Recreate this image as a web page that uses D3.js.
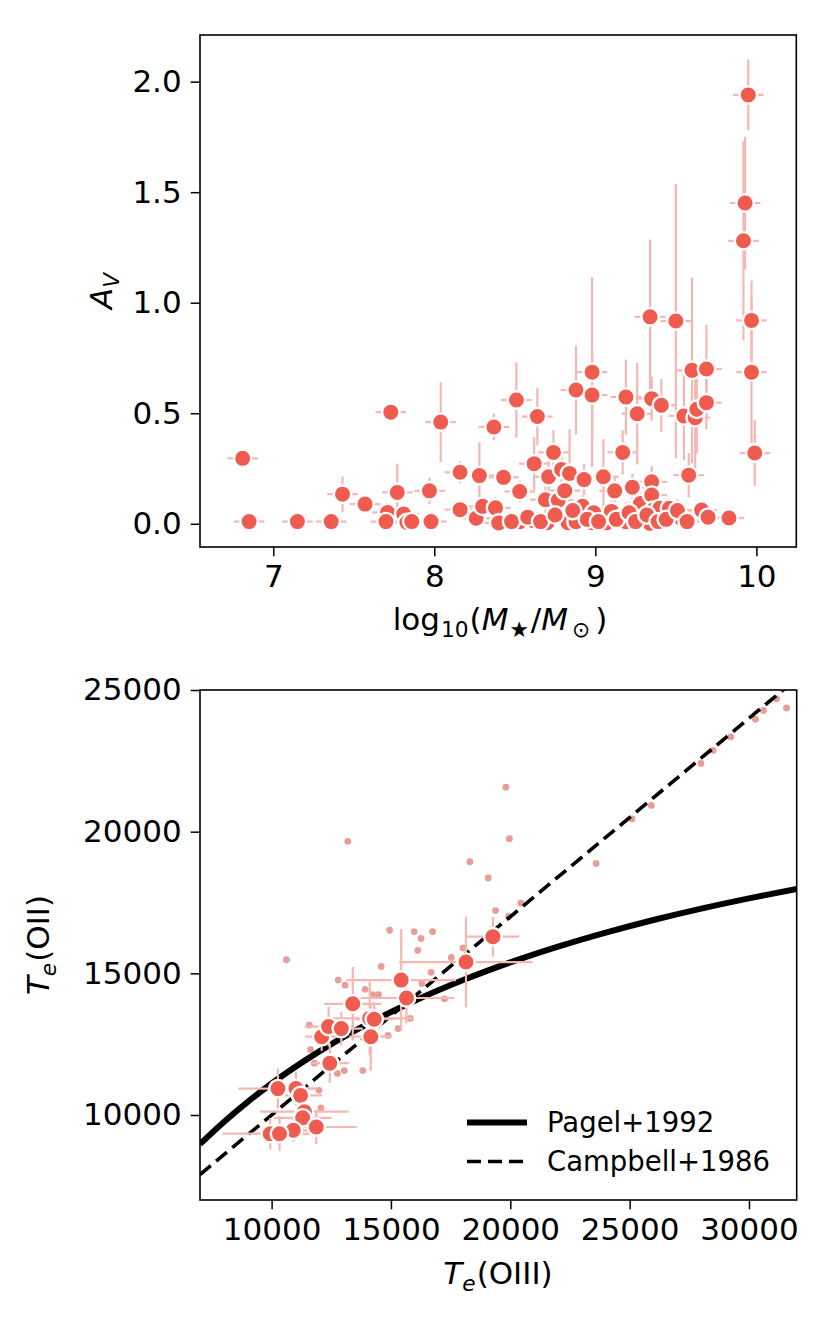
<!DOCTYPE html>
<html>
<head>
<meta charset="utf-8">
<script src="https://cdn.jsdelivr.net/npm/d3@7"></script>
<style>
  body { margin: 0; background: #fff; }
  svg { display: block; }
  text { font-family: "DejaVu Sans", sans-serif; fill: #000; }
</style>
</head>
<body>
<svg id="fig" width="830" height="1329"></svg>
<script>
// ---- top panel: stellar mass vs A_V ----
const logMass = [6.81, 6.85, 7.15, 7.36, 7.43, 7.57, 7.73, 7.77, 7.71, 7.70, 7.81, 7.83, 7.86, 7.97, 7.98,
  8.04, 8.16, 8.16, 8.26, 8.28, 8.30, 8.37, 8.38, 8.40, 8.43, 8.51, 8.53, 8.53, 8.61, 8.62, 8.64, 8.69,
  8.70, 8.71, 8.74, 8.77, 8.79, 8.81, 8.84, 8.83, 8.88, 8.88, 8.92, 8.93, 8.98, 8.98, 8.98, 8.99, 9.05,
  9.07, 9.10, 9.12, 9.16, 9.17, 9.19, 9.19, 9.23, 9.26, 9.27, 9.28, 9.30, 9.34, 9.34, 9.35, 9.35, 9.35,
  9.36, 9.40, 9.41, 9.46, 9.50, 9.53, 9.55, 9.58, 9.60, 9.62, 9.63, 9.66, 9.69, 9.69, 9.70, 9.83, 9.92,
  9.93, 9.95, 9.97, 9.97, 9.99,
  8.48, 8.58, 8.66, 8.75, 8.86, 8.95, 9.02, 9.13, 9.21, 9.25, 9.32, 9.39, 9.44, 9.51, 9.57];
const avValue = [0.296, 0.01, 0.01, 0.01, 0.134, 0.089, 0.505, 0.142, 0.051, 0.01, 0.044, 0.006, 0.01, 0.149, 0.01,
  0.46, 0.233, 0.064, 0.025, 0.218, 0.079, 0.438, 0.072, 0.004, 0.21, 0.56, 0.146, 0.009, 0.015, 0.272, 0.485, 0.109,
  0.005, 0.213, 0.323, 0.107, 0.246, 0.15, 0.228, 0.005, 0.605, 0.009, 0.079, 0.2, 0.686, 0.582, 0.005, 0.05, 0.213,
  0.005, 0.056, 0.149, 0.024, 0.323, 0.573, 0.009, 0.165, 0.498, 0.035, 0.092, 0.01, 0.936, 0.002, 0.566, 0.19, 0.13,
  0.062, 0.07, 0.536, 0.07, 0.917, 0.026, 0.488, 0.22, 0.694, 0.48, 0.518, 0.062, 0.70, 0.548, 0.03, 0.026, 1.28,
  1.451, 1.94, 0.92, 0.686, 0.32,
  0.01, 0.03, 0.01, 0.04, 0.06, 0.02, 0.01, 0.02, 0.05, 0.01, 0.04, 0.01, 0.02, 0.06, 0.01];
const avError = [0.02, 0.02, 0.02, 0.02, 0.08, 0.04, 0.02, 0.13, 0.03, 0.02, 0.03, 0.02, 0.02, 0.06, 0.02,
  0.18, 0.05, 0.04, 0.03, 0.15, 0.04, 0.06, 0.05, 0.02, 0.04, 0.17, 0.05, 0.02, 0.03, 0.12, 0.13, 0.06,
  0.02, 0.07, 0.1, 0.05, 0.1, 0.05, 0.2, 0.02, 0.2, 0.03, 0.05, 0.07, 0.43, 0.2, 0.03, 0.04, 0.17,
  0.03, 0.05, 0.06, 0.03, 0.1, 0.17, 0.03, 0.06, 0.23, 0.04, 0.05, 0.03, 0.35, 0.03, 0.1, 0.07, 0.05,
  0.04, 0.04, 0.12, 0.04, 0.62, 0.04, 0.2, 0.1, 0.42, 0.25, 0.2, 0.04, 0.2, 0.12, 0.04, 0.03, 0.45,
  0.3, 0.16, 0.18, 0.32, 0.15,
  0.02, 0.03, 0.02, 0.03, 0.04, 0.03, 0.02, 0.03, 0.04, 0.02, 0.03, 0.02, 0.03, 0.05, 0.02];
const logMassError = 0.095;
const massTicks = [7, 8, 9, 10];
const avTicks = [0, 0.5, 1.0, 1.5, 2.0];

// ---- bottom panel: Te(OIII) vs Te(OII) ----
const teO3 = [10264, 11022, 11215, 11374, 11300, 10909, 11872, 9941, 10331, 12438, 12098, 12387, 12920,
  13401, 14109, 14300, 14155, 15429, 15651, 18144, 19271];
const teO2 = [10932, 10932, 10692, 10117, 9900, 9460, 9577, 9340, 9340, 11829, 12764, 13121, 13050,
  13925, 13410, 13380, 12764, 14762, 14130, 15398, 16294];
const teO3Error = [1650, 800, 900, 1850, 1200, 1000, 1700, 2000, 1000, 800, 700, 1000, 900,
  1200, 1800, 800, 900, 2300, 2000, 2800, 1100];
const teO2Error = [700, 600, 500, 500, 400, 400, 600, 550, 600, 700, 500, 700, 600,
  1300, 1300, 600, 1200, 1800, 900, 1600, 700];

const litO3 = [19816, 19962, 13193, 18306, 19078, 23598, 25094, 25911, 27988, 28499, 29241, 30271, 31156,
  31575, 30607, 10620, 14943, 15973, 16744, 16262, 16120, 19384, 20444, 19929, 18018, 14591, 12789, 13078,
  13916, 14235, 14478, 16682, 16297, 17243, 11583, 14880, 15299, 15814, 11793, 13045, 13820, 12756, 11985,
  12065, 11633, 17532];
const litO2 = [21571, 19753, 19658, 18938, 18365, 18877, 20448, 20925, 22408, 22866, 23343, 23968, 24695,
  24367, 24278, 15479, 16520, 16473, 16473, 16233, 15813, 17215, 17481, 17011, 15898, 15241, 14762, 14582,
  14437, 14246, 14246, 15036, 14641, 14101, 13170, 12810, 13050, 13410, 11829, 11568, 11568, 11469, 10872,
  10247, 12310, 15558];

const pagelO3 = [7000, 8000, 9000, 10000, 12000, 14000, 16000, 18000, 20000, 22000, 24000, 26000, 28000, 30000, 32000];
const pagelO2 = [8974, 9756, 10465, 11111, 12245, 13208, 14035, 14754, 15385, 15942, 16438, 16883, 17284, 17647, 17978];
const campbellO3 = [7000, 32000];
const campbellO2 = [7900, 25400];

const teTicksX = [10000, 15000, 20000, 25000, 30000];
const teTicksY = [10000, 15000, 20000, 25000];

const legendNames = ["Pagel+1992", "Campbell+1986"];

// ---- styling ----
const markColor = "#f05b4f";
const barColor = "#f3b8b2";
const litColor = "#e89d96";
const fontSize = 31;

const svg = d3.select("#fig");

// mathtext-like label: parts with optional italic / subscript
function richText(sel, parts, fs) {
  let shifted = false;
  parts.forEach(function (p) {
    const ts = sel.append("tspan").text(p.t);
    if (p.italic) ts.style("font-style", "italic");
    if (p.dx) ts.attr("dx", p.dx);
    if (p.sub) {
      ts.attr("font-size", fs * 0.7).attr("dy", shifted ? 0 : fs * 0.22);
      shifted = true;
    } else {
      ts.attr("font-size", fs);
      if (shifted) { ts.attr("dy", -fs * 0.22); shifted = false; }
    }
  });
}

function frame(g, w, h) {
  g.append("rect")
    .attr("width", w).attr("height", h)
    .attr("fill", "none").attr("stroke", "#000").attr("stroke-width", 1.6);
}

function styleAxis(g) {
  g.select(".domain").remove();
  g.selectAll(".tick line").attr("stroke", "#000").attr("stroke-width", 1.5);
  g.selectAll(".tick text").attr("font-size", fontSize).attr("font-family", "DejaVu Sans").attr("fill", "#000");
}

// ================= top panel =================
const topBox = { left: 200, top: 35, w: 596.3, h: 512 };
const x1 = d3.scaleLinear().domain([6.545, 10.248]).range([0, topBox.w]);
const y1 = d3.scaleLinear().domain([-0.105, 2.211]).range([topBox.h, 0]);

const g1 = svg.append("g").attr("transform", `translate(${topBox.left},${topBox.top})`);
g1.append("clipPath").attr("id", "clip1").append("rect").attr("width", topBox.w).attr("height", topBox.h);

const p1 = g1.append("g").attr("clip-path", "url(#clip1)");
const topData = logMass.map((m, i) => ({ x: m, y: avValue[i], e: avError[i] }));

p1.append("g").selectAll("line").data(topData).join("line")
  .attr("x1", d => x1(d.x - logMassError)).attr("x2", d => x1(d.x + logMassError))
  .attr("y1", d => y1(d.y)).attr("y2", d => y1(d.y))
  .attr("stroke", barColor).attr("stroke-width", 2.2);
p1.append("g").selectAll("line").data(topData).join("line")
  .attr("x1", d => x1(d.x)).attr("x2", d => x1(d.x))
  .attr("y1", d => y1(d.y - d.e)).attr("y2", d => y1(d.y + d.e))
  .attr("stroke", barColor).attr("stroke-width", 2.2);
p1.append("g").selectAll("circle").data(topData).join("circle")
  .attr("cx", d => x1(d.x)).attr("cy", d => y1(d.y)).attr("r", 8.7)
  .attr("fill", markColor).attr("stroke", "#fff").attr("stroke-width", 2.4);

g1.append("g").attr("transform", `translate(0,${topBox.h})`)
  .call(d3.axisBottom(x1).tickValues(massTicks).tickSize(9.3).tickPadding(9).tickFormat(d3.format("d")))
  .call(styleAxis);
g1.append("g")
  .call(d3.axisLeft(y1).tickValues(avTicks).tickSize(9.3).tickPadding(9).tickFormat(d3.format(".1f")))
  .call(styleAxis);
frame(g1, topBox.w, topBox.h);

const xl1 = svg.append("text").attr("x", 500).attr("y", 630).attr("text-anchor", "middle");
richText(xl1, [{ t: "log" }, { t: "10", sub: true, dx: 1 }, { t: "(", dx: 1 }, { t: "M", italic: true },
  { t: "★", sub: true, dx: 1 }, { t: "/", dx: 2 }, { t: "M", italic: true }, { t: "⊙", sub: true, dx: 4 },
  { t: ")", dx: 5 }], fontSize);

const yl1 = svg.append("text").attr("transform", "translate(112,291) rotate(-90)").attr("text-anchor", "middle");
richText(yl1, [{ t: "A", italic: true }, { t: "V", italic: true, sub: true }], fontSize);

// ================= bottom panel =================
const botBox = { left: 200, top: 690, w: 596.7, h: 510 };
const x2 = d3.scaleLinear().domain([7000, 32000]).range([0, botBox.w]);
const y2 = d3.scaleLinear().domain([7000, 25000]).range([botBox.h, 0]);

const g2 = svg.append("g").attr("transform", `translate(${botBox.left},${botBox.top})`);
g2.append("clipPath").attr("id", "clip2").append("rect").attr("width", botBox.w).attr("height", botBox.h);
const p2 = g2.append("g").attr("clip-path", "url(#clip2)");

const litData = litO3.map((t, i) => ({ x: t, y: litO2[i] }));
p2.append("g").selectAll("circle").data(litData).join("circle")
  .attr("cx", d => x2(d.x)).attr("cy", d => y2(d.y)).attr("r", 3.4)
  .attr("fill", litColor);

const line = d3.line().x(d => x2(d[0])).y(d => y2(d[1])).curve(d3.curveMonotoneX);
p2.append("path").datum(pagelO3.map((t, i) => [t, pagelO2[i]]))
  .attr("d", line).attr("fill", "none").attr("stroke", "#000").attr("stroke-width", 6);
p2.append("path").datum(campbellO3.map((t, i) => [t, campbellO2[i]]))
  .attr("d", line).attr("fill", "none").attr("stroke", "#000").attr("stroke-width", 3.6)
  .attr("stroke-dasharray", "14,7");

const ourData = teO3.map((t, i) => ({ x: t, y: teO2[i], ex: teO3Error[i], ey: teO2Error[i] }));
p2.append("g").selectAll("line").data(ourData).join("line")
  .attr("x1", d => x2(d.x - d.ex)).attr("x2", d => x2(d.x + d.ex))
  .attr("y1", d => y2(d.y)).attr("y2", d => y2(d.y))
  .attr("stroke", barColor).attr("stroke-width", 2.2);
p2.append("g").selectAll("line").data(ourData).join("line")
  .attr("x1", d => x2(d.x)).attr("x2", d => x2(d.x))
  .attr("y1", d => y2(d.y - d.ey)).attr("y2", d => y2(d.y + d.ey))
  .attr("stroke", barColor).attr("stroke-width", 2.2);
p2.append("g").selectAll("circle").data(ourData).join("circle")
  .attr("cx", d => x2(d.x)).attr("cy", d => y2(d.y)).attr("r", 8.7)
  .attr("fill", markColor).attr("stroke", "#fff").attr("stroke-width", 2.4);

g2.append("g").attr("transform", `translate(0,${botBox.h})`)
  .call(d3.axisBottom(x2).tickValues(teTicksX).tickSize(9.3).tickPadding(9).tickFormat(d3.format("d")))
  .call(styleAxis);
g2.append("g")
  .call(d3.axisLeft(y2).tickValues(teTicksY).tickSize(9.3).tickPadding(9).tickFormat(d3.format("d")))
  .call(styleAxis);
frame(g2, botBox.w, botBox.h);

// legend
const leg = svg.append("g");
legendNames.forEach(function (name, i) {
  const yy = 1122.5 + i * 39;
  leg.append("line").attr("x1", 467).attr("x2", 527).attr("y1", yy).attr("y2", yy)
    .attr("stroke", "#000").attr("stroke-width", i === 0 ? 6 : 3.6)
    .attr("stroke-dasharray", i === 0 ? null : "14,7");
  leg.append("text").attr("x", 547).attr("y", yy).attr("dy", "0.36em")
    .attr("font-size", 27.5).text(name);
});

const xl2 = svg.append("text").attr("x", 498).attr("y", 1284).attr("text-anchor", "middle");
richText(xl2, [{ t: "T", italic: true }, { t: "e", italic: true, sub: true }, { t: "(OIII)", dx: 1 }], fontSize);

const yl2 = svg.append("text").attr("transform", "translate(49,945) rotate(-90)").attr("text-anchor", "middle");
richText(yl2, [{ t: "T", italic: true }, { t: "e", italic: true, sub: true }, { t: "(OII)", dx: 1 }], fontSize);
</script>
</body>
</html>
